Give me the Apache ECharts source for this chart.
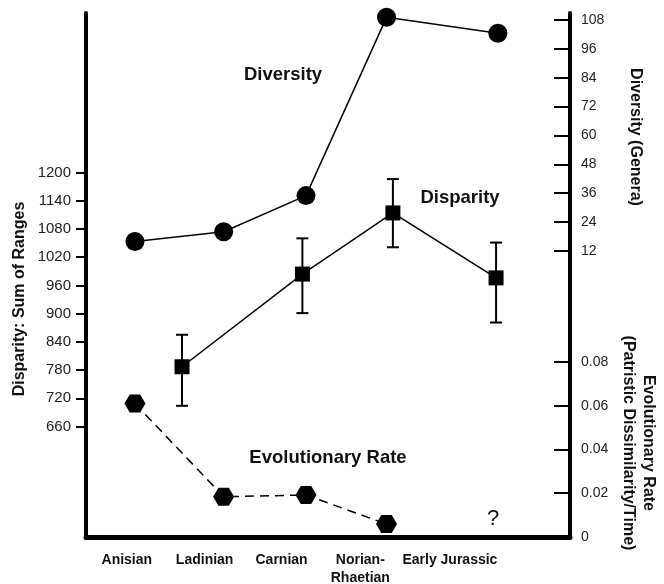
<!DOCTYPE html>
<html>
<head>
<meta charset="utf-8">
<script src="https://cdn.jsdelivr.net/npm/echarts@6/dist/echarts.min.js"></script>
<style>
html,body{margin:0;padding:0;background:#fff;}
#chart{width:664px;height:584px;}
</style>
</head>
<body>
<div id="chart"></div>
<script>
// ---- data ----
const stages = ['Anisian', 'Ladinian', 'Carnian', 'Norian-\nRhaetian', 'Early Jurassic'];
const stageLabelPos = [-0.09, 0.77, 1.62, 2.49, 3.48];

const diversityPos = [0, 0.98, 1.89, 2.78, 4.01];
const diversity = [15.9, 20.0, 35.0, 109.1, 102.5];

const disparityPos = [0.52, 1.85, 2.85, 3.99];
const disparity = [787, 984, 1114, 976];
const disparityLow = [704, 901, 1041, 881];
const disparityHigh = [855, 1060, 1186, 1051];

const ratePos = [0, 0.98, 1.89, 2.78];
const rate = [0.061, 0.0184, 0.0192, 0.0059];

const disparityTicks = [660, 720, 780, 840, 900, 960, 1020, 1080, 1140, 1200];
const diversityTicks = [12, 24, 36, 48, 60, 72, 84, 96, 108];
const rateLabels = [0, 0.02, 0.04, 0.06, 0.08];
const rateTicks = [0.02, 0.04, 0.06, 0.08];

// ---- chart ----
const chart = echarts.init(document.getElementById('chart'));
const FONT = 'Liberation Sans, Arial, Helvetica, sans-serif';
const zip = (xs, ys) => xs.map((x, i) => [x, ys[i]]);
const hexagon = 'path://M2,0 L1,1.732 L-1,1.732 L-2,0 L-1,-1.732 L1,-1.732 Z';
const plain = v => String(v);

const option = {
  backgroundColor: '#fff',
  animation: false,
  grid: { left: 86, right: 94, top: 13, bottom: 47, containLabel: false, outerBoundsMode: 'none' },
  xAxis: {
    type: 'value', min: -0.541, max: 4.807,
    splitLine: { show: false },
    axisLine: { show: true, onZero: false, lineStyle: { color: '#000', width: 5 } },
    axisTick: { show: false },
    axisLabel: {
      customValues: stageLabelPos,
      margin: 14,
      fontFamily: FONT, fontWeight: 'bold', fontSize: 14, color: '#111', lineHeight: 18,
      formatter: function (v) {
        let best = 0;
        stageLabelPos.forEach((p, i) => { if (Math.abs(p - v) < Math.abs(stageLabelPos[best] - v)) best = i; });
        return stages[best];
      }
    }
  },
  yAxis: [
    {
      type: 'value', position: 'left', min: 425.1, max: 1539,
      splitLine: { show: false },
      axisLine: { show: true, onZero: false, lineStyle: { color: '#000', width: 4 } },
      axisTick: { show: true, customValues: disparityTicks, length: 10, lineStyle: { color: '#000', width: 2 } },
      axisLabel: { customValues: disparityTicks, margin: 15, fontFamily: FONT, fontSize: 15, color: '#222', formatter: plain }
    },
    {
      type: 'value', position: 'right', min: -106.9, max: 110.9,
      splitLine: { show: false },
      axisLine: { show: true, onZero: false, lineStyle: { color: '#000', width: 4 } },
      axisTick: { show: true, inside: true, customValues: diversityTicks, length: 16, lineStyle: { color: '#000', width: 2 } },
      axisLabel: { customValues: diversityTicks, margin: 11, fontFamily: FONT, fontSize: 14, color: '#222', formatter: plain }
    },
    {
      type: 'value', position: 'right', min: 0, max: 0.2395,
      splitLine: { show: false },
      axisLine: { show: false, onZero: false },
      axisTick: { show: true, inside: true, customValues: rateTicks, length: 16, lineStyle: { color: '#000', width: 2 } },
      axisLabel: { customValues: rateLabels, margin: 11, fontFamily: FONT, fontSize: 14, color: '#222', formatter: plain }
    }
  ],
  series: [
    {
      name: 'Diversity', type: 'line', xAxisIndex: 0, yAxisIndex: 1,
      data: zip(diversityPos, diversity),
      symbol: 'circle', symbolSize: 19,
      itemStyle: { color: '#000' },
      lineStyle: { color: '#000', width: 1.5 },
      z: 5
    },
    {
      name: 'Disparity error', type: 'custom', xAxisIndex: 0, yAxisIndex: 0,
      data: disparityPos.map((x, i) => [x, disparityLow[i], disparityHigh[i]]),
      encode: { x: 0, y: [1, 2] },
      renderItem: function (params, api) {
        const lo = api.coord([api.value(0), api.value(1)]);
        const hi = api.coord([api.value(0), api.value(2)]);
        const w = 6;
        const st = { stroke: '#000', lineWidth: 2 };
        return {
          type: 'group',
          children: [
            { type: 'line', shape: { x1: lo[0], y1: lo[1], x2: hi[0], y2: hi[1] }, style: st },
            { type: 'line', shape: { x1: lo[0] - w, y1: lo[1], x2: lo[0] + w, y2: lo[1] }, style: st },
            { type: 'line', shape: { x1: hi[0] - w, y1: hi[1], x2: hi[0] + w, y2: hi[1] }, style: st }
          ]
        };
      },
      z: 3
    },
    {
      name: 'Disparity', type: 'line', xAxisIndex: 0, yAxisIndex: 0,
      data: zip(disparityPos, disparity),
      symbol: 'rect', symbolSize: 15,
      itemStyle: { color: '#000' },
      lineStyle: { color: '#000', width: 1.5 },
      z: 5
    },
    {
      name: 'Evolutionary Rate', type: 'line', xAxisIndex: 0, yAxisIndex: 2,
      data: zip(ratePos, rate),
      symbol: hexagon, symbolSize: [21, 18],
      itemStyle: { color: '#000' },
      lineStyle: { color: '#000', width: 1.5, type: [9, 6] },
      z: 5
    }
  ],
  graphic: [
    { type: 'text', x: 283, y: 75, style: { text: 'Diversity', textAlign: 'center', textVerticalAlign: 'middle', fill: '#111', font: 'bold 18.5px ' + FONT } },
    { type: 'text', x: 460, y: 198, style: { text: 'Disparity', textAlign: 'center', textVerticalAlign: 'middle', fill: '#111', font: 'bold 18.5px ' + FONT } },
    { type: 'text', x: 328, y: 458, style: { text: 'Evolutionary Rate', textAlign: 'center', textVerticalAlign: 'middle', fill: '#111', font: 'bold 18.5px ' + FONT } },
    { type: 'text', x: 493, y: 519, style: { text: '?', textAlign: 'center', textVerticalAlign: 'middle', fill: '#111', font: '22px ' + FONT } },
    { type: 'text', x: 20, y: 299, rotation: Math.PI / 2, style: { text: 'Disparity: Sum of Ranges', textAlign: 'center', textVerticalAlign: 'middle', fill: '#111', font: 'bold 16px ' + FONT } },
    { type: 'text', x: 635, y: 137, rotation: -Math.PI / 2, style: { text: 'Diversity (Genera)', textAlign: 'center', textVerticalAlign: 'middle', fill: '#111', font: 'bold 16px ' + FONT } },
    { type: 'text', x: 638, y: 443, rotation: -Math.PI / 2, style: { text: 'Evolutionary Rate\n(Patristic Dissimilarity/Time)', textAlign: 'center', textVerticalAlign: 'middle', fill: '#111', font: 'bold 16px ' + FONT, lineHeight: 20 } }
  ]
};
chart.setOption(option);
</script>
</body>
</html>
